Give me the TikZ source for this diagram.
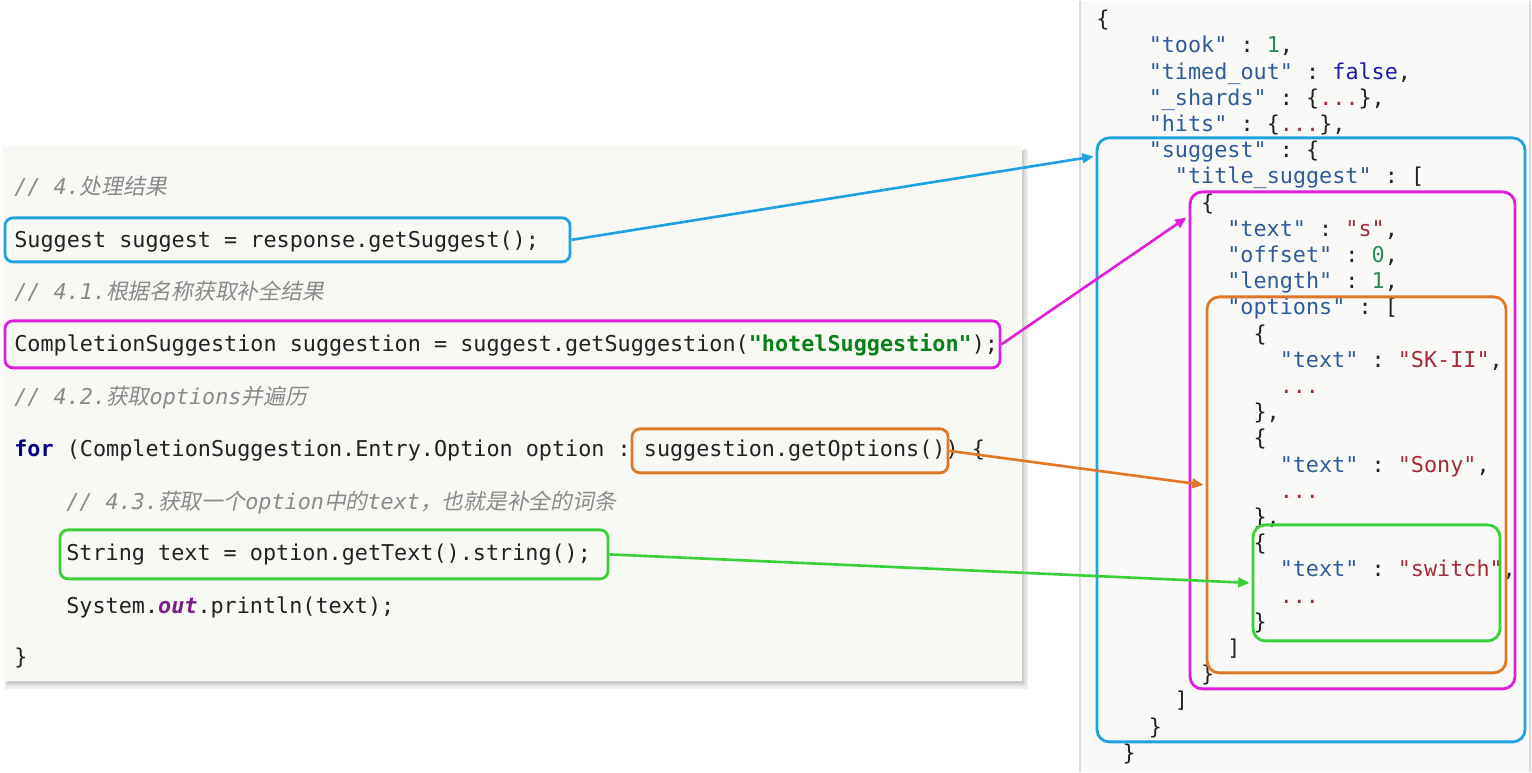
\documentclass[tikz,border=0pt]{standalone}
\usepackage{fontspec}
\setmonofont{DejaVu Sans Mono}
\newfontfamily\cjk[FakeSlant=0.2]{Noto Sans CJK SC}
\usetikzlibrary{arrows.meta,calc,fit}

\definecolor{cblue}{HTML}{1FA3E0}
\definecolor{cmag}{HTML}{E020D8}
\definecolor{corange}{HTML}{E0782A}
\definecolor{cgreen}{HTML}{3CCF3C}
\definecolor{panel}{HTML}{F8F9F5}
\definecolor{jpanel}{HTML}{F9FAF7}
\definecolor{cmtgray}{HTML}{8A8A8A}
\definecolor{kwnavy}{HTML}{000080}
\definecolor{strgreen}{HTML}{0A7F1A}
\definecolor{fieldpurple}{HTML}{7A1F8C}
\definecolor{jkeyc}{HTML}{2F5B9A}
\definecolor{jstrc}{HTML}{A52A3A}
\definecolor{jnumc}{HTML}{2E8B57}
\definecolor{jboolc}{HTML}{1C1CA8}
\definecolor{ink}{HTML}{222222}

\newcommand{\codefont}{\ttfamily\fontsize{12.4}{14}\selectfont}
\newcommand{\jk}[1]{\textcolor{jkeyc}{#1}}
\newcommand{\js}[1]{\textcolor{jstrc}{#1}}
\newcommand{\jn}[1]{\textcolor{jnumc}{#1}}
\newcommand{\jb}[1]{\textcolor{jboolc}{#1}}

\tikzset{
  codeline/.style={anchor=west, inner sep=0pt, text height=9pt, text depth=3pt, text=ink, font=\codefont},
  comment/.style={codeline, text=cmtgray, font=\codefont\itshape},
  jline/.style={anchor=west, inner sep=0pt, text height=9pt, text depth=3pt, text=ink, font=\codefont},
  hbox/.style={draw=#1, line width=1.6pt, rounded corners=4.5pt, inner sep=0pt},
  jbox/.style={draw=#1, line width=1.6pt, rounded corners=7pt, inner sep=0pt},
  link/.style={draw=#1, line width=1.5pt, -{Triangle[length=6.5pt,width=5.5pt]}}
}

\begin{document}
\begin{tikzpicture}[x=0.02cm, y=-0.02cm]

% page and panels
\fill[white] (0,0) rectangle (1532,771);
\fill[black!7] (5,148) rectangle (1028,688);
\fill[black!13] (6,149) rectangle (1026,685);
\fill[black!20] (7,150) rectangle (1024,683);
\fill[panel] (3,145) rectangle (1022,680);
\fill[jpanel] (1080,0) rectangle (1532,771);
\draw[black!14, line width=1pt] (1080,0) -- (1080,771);
\draw[black!14, line width=1pt] (1530,0) -- (1530,771);

% java code
\node[comment] (cm1) at (14,188) {// 4.{\cjk 处理结果}};
\node[codeline] (c1) at (14,241) {Suggest suggest = response.getSuggest();};
\node[comment] (cm2) at (14,293) {// 4.1.{\cjk 根据名称获取补全结果}};
\node[codeline] (c2) at (14,345) {CompletionSuggestion suggestion = suggest.getSuggestion({\bfseries\color{strgreen}"hotelSuggestion"});};
\node[comment] (cm3) at (14,398) {// 4.2.{\cjk 获取}options{\cjk 并遍历}};
\node[codeline] (c3) at (14,450) {{\bfseries\color{kwnavy}for} (CompletionSuggestion.Entry.Option option : suggestion.getOptions()) \{};
\node[comment] (cm4) at (66,503) {// 4.3.{\cjk 获取一个}option{\cjk 中的}text{\cjk ，也就是补全的词条}};
\node[codeline] (c4) at (66,554) {String text = option.getText().string();};
\node[codeline] (c5) at (66,607) {System.{\bfseries\itshape\color{fieldpurple}out}.println(text);};
\node[codeline] (c6) at (14,658) {\}};

% highlight boxes on the code
\node[hbox=cblue, fit={(5,217) (570,261)}] (sbox) {};
\node[hbox=cmag, fit={(5,320) (1000,367)}] (mbox) {};
\node[hbox=corange, fit={(632,428) (948,472)}] (obox) {};
\node[hbox=cgreen, fit={(60,529) (608,578)}] (gbox) {};

% json response
\foreach \k/\t [count=\i from 0] in {
  0/{\{},
  4/{\jk{"took"} : \jn{1},},
  4/{\jk{"timed\_out"} : \jb{false},},
  4/{\jk{"\_shards"} : \{\js{...}\},},
  4/{\jk{"hits"} : \{\js{...}\},},
  4/{\jk{"suggest"} : \{},
  6/{\jk{"title\_suggest"} : [},
  8/{\{},
  10/{\jk{"text"} : \js{"s"},},
  10/{\jk{"offset"} : \jn{0},},
  10/{\jk{"length"} : \jn{1},},
  10/{\jk{"options"} : [},
  12/{\{},
  14/{\jk{"text"} : \js{"SK-II"},},
  14/{\js{...}},
  12/{\},},
  12/{\{},
  14/{\jk{"text"} : \js{"Sony"},},
  14/{\js{...}},
  12/{\},},
  12/{\{},
  14/{\jk{"text"} : \js{"switch"},},
  14/{\js{...}},
  12/{\}},
  10/{]},
  8/{\}},
  6/{]},
  4/{\}},
  2/{\}}
}
  \node[jline] (j\i) at ({1096+13.1*\k},{20.5+26.2*\i}) {\t};

% boxes on the json
\node[jbox=cblue, fit={(1097,137) (1525,741)}] (jsug) {};
\node[jbox=cmag, fit={(1190,191) (1515,688)}] (jtitle) {};
\node[jbox=corange, fit={(1207,296) (1506,672)}] (jopt) {};
\node[jbox=cgreen, fit={(1253,524) (1500,640)}] (jsw) {};

% connectors
\draw[link=cblue] (sbox.east) -- ($(jsug.north west)+(-2,20)$);
\draw[link=cmag] (mbox.east) -- ($(jtitle.north west)+(-2,27)$);
\draw[link=corange] (obox.east) -- ($(jopt.west)+(-2,0)$);
\draw[link=cgreen] (gbox.east) -- ($(jsw.west)+(-2,0)$);

\end{tikzpicture}
\end{document}
